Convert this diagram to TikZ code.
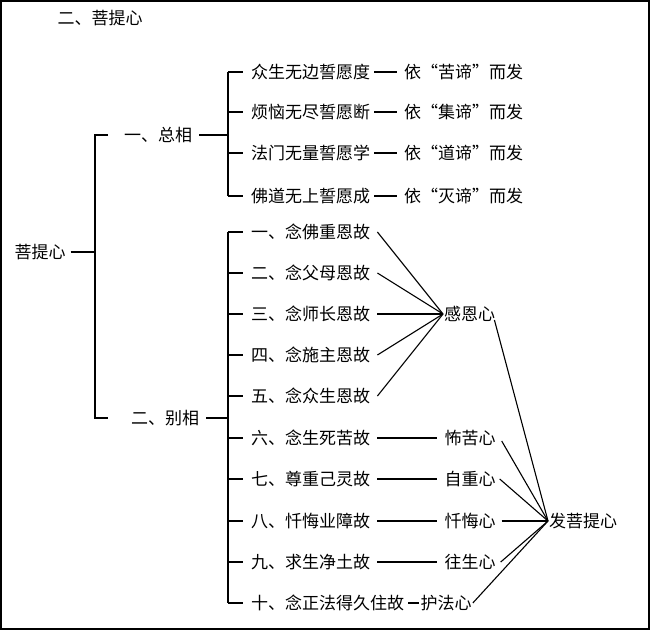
\documentclass[tikz,border=0pt]{standalone}
\usepackage{fontspec}
\newfontfamily\cjk{Noto Sans CJK SC}
\usetikzlibrary{positioning}
\tikzset{
  txt/.style={font=\cjk\fontsize{17}{17}\selectfont, inner sep=1pt},
  item/.style={txt, anchor=west},
  conn/.style={line width=1.1pt},
}
\begin{document}
\begin{tikzpicture}[x=1pt,y=-1pt]
        \useasboundingbox (0,0) rectangle (650,630);
        \draw[line width=1.5pt] (1,1) rectangle (649,629);
        \node[txt] (title) at (100,18) {二、菩提心};

        % root and two branches
        \node[txt] (root) at (40,252) {菩提心};
        \node[txt] (zong) at (158,135) {一、总相};
        \node[txt] (bie) at (165,418) {二、别相};
        \draw[conn] (root.east) ++(4,0) -- (95,252);
        \draw[conn] (108,135) -- (95,135) -- (95,418) -- (108,418);

        % general aspect
        \draw[conn] (zong.east) ++(6,0) -- (228,135);
        \draw[conn] (228,72) -- (228,196);
        \foreach \y/\a/\b in {72/众生无边誓愿度/依“苦谛”而发, 112/烦恼无尽誓愿断/依“集谛”而发,
                              153/法门无量誓愿学/依“道谛”而发, 196/佛道无上誓愿成/依“灭谛”而发} {
            \draw[conn] (228,\y) -- (243,\y);
            \node[item] (v\y) at (250,\y) {\a};
            \node[item] (r\y) at (403,\y) {\b};
            \draw[conn] (v\y.east) ++(3,0) -- ([xshift=-6pt]r\y.west);
        }

        % particular aspect
        \draw[conn] (bie.east) ++(6,0) -- (228,418);
        \draw[conn] (228,232) -- (228,603);
        \foreach \i/\y/\t in {1/232/一、念佛重恩故, 2/273/二、念父母恩故, 3/314/三、念师长恩故,
                              4/355/四、念施主恩故, 5/396/五、念众生恩故, 6/438/六、念生死苦故,
                              7/479/七、尊重己灵故, 8/521/八、忏悔业障故, 9/562/九、求生净土故,
                              10/603/十、念正法得久住故} {
            \draw[conn] (228,\y) -- (243,\y);
            \node[item] (c\i) at (250,\y) {\t};
        }

        \coordinate (hubA) at (443,314);
        \node[item] (gan) at (hubA) {感恩心};
        \draw[conn] (c1.east) ++(6,0) -- (hubA);
        \draw[conn] (c2.east) ++(6,0) -- (hubA);
        \draw[conn] (c3.east) ++(6,0) -- (hubA);
        \draw[conn] (c4.east) ++(6,0) -- (hubA);
        \draw[conn] (c5.east) ++(6,0) -- (hubA);

        \node[txt] (bu) at (470,438) {怖苦心};
        \node[txt] (zi) at (470,479) {自重心};
        \node[txt] (chan) at (470,521) {忏悔心};
        \node[txt] (wang) at (470,562) {往生心};
        \node[item, right=14pt of c10] (hu) {护法心};
        \draw[conn] (c10.east) ++(3,0) -- (hu.west);
        \draw[conn] (c6.east) ++(6,0) -- ([xshift=-6pt]bu.west);
        \draw[conn] (c7.east) ++(6,0) -- ([xshift=-6pt]zi.west);
        \draw[conn] (c8.east) ++(6,0) -- ([xshift=-6pt]chan.west);
        \draw[conn] (c9.east) ++(6,0) -- ([xshift=-6pt]wang.west);

        \coordinate (hubB) at (548,521);
        \node[item] (fa) at (hubB) {发菩提心};
        \draw[conn] ([xshift=-2pt,yshift=3pt]gan.south east) -- (hubB);
        \draw[conn] ([xshift=5pt,yshift=-3pt]bu.east) -- (hubB);
        \draw[conn] ([xshift=3pt]zi.east) -- (hubB);
        \draw[conn] ([xshift=5pt]chan.east) -- (hubB);
        \draw[conn] ([xshift=4pt]wang.east) -- (hubB);
        \draw[conn] (hu.east) -- (hubB);
\end{tikzpicture}
\end{document}
